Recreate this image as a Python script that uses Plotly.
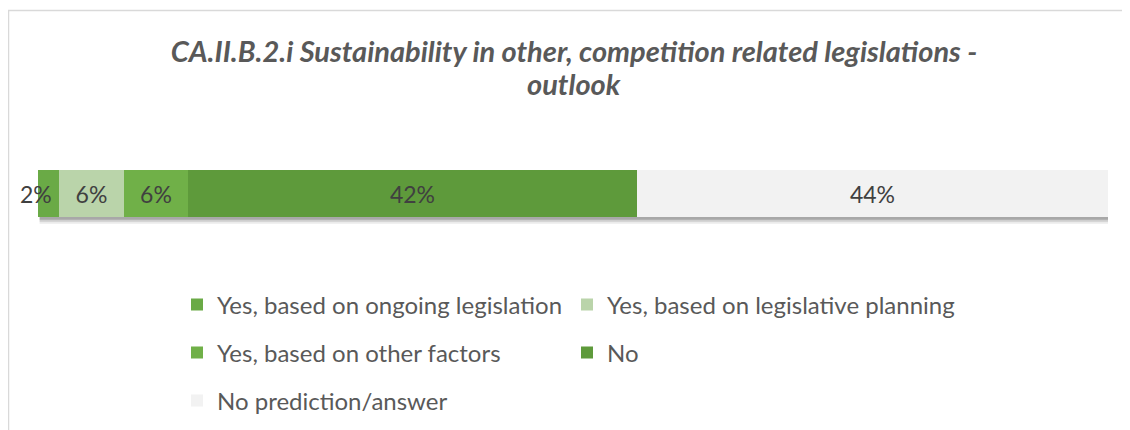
import plotly.graph_objects as go

categories = [""]
series_names = [
    "Yes, based on ongoing legislation",
    "Yes, based on legislative planning",
    "Yes, based on other factors",
    "No",
    "No prediction/answer",
]
series_values = [2, 6, 6, 42, 44]
series_colors = ["#6aaa46", "#bad4aa", "#70b048", "#5e9a3b", "#f2f2f2"]
legend_ids = ["legend", "legend", "legend2", "legend2", "legend3"]

W, H = 1130, 430
OFF = 8  # page body margin
ML, MR, MT, MB = 38 - OFF, 22 + OFF, 146 - OFF, 189 + OFF
PH = H - MT - MB


def py(p):
    return (H - MB - (p - OFF)) / PH


def px(p):
    return ((p - OFF) - ML) / (W - ML - MR)


BAR_W = 47 / PH
LABEL_FONT = dict(family="Lato", size=23, color="#404040")

fig = go.Figure()
for i, (name, val, col, lg) in enumerate(zip(series_names, series_values, series_colors, legend_ids)):
    fig.add_trace(go.Bar(
        y=categories, x=[val], name=name, orientation="h",
        marker=dict(color=col, line=dict(width=0)),
        width=BAR_W,
        text=[f"{val}%"], textposition="none" if i == 0 else "inside",
        insidetextanchor="middle",
        textangle=0, constraintext="none", cliponaxis=False,
        textfont=LABEL_FONT,
        legend=lg, hoverinfo="skip",
    ))

# label of the narrow first segment, drawn on top so it can overhang
annotations = [dict(text=f"{series_values[0]}%", xref="x", yref="y",
                    x=series_values[0] / 2, y=0, xshift=-13, showarrow=False,
                    xanchor="center", yanchor="middle", font=LABEL_FONT)]

# soft drop shadow under the bar
total = sum(series_values)
for off, alpha in [(0.07, 0.08), (0.05, 0.12), (0.03, 0.18)]:
    fig.add_shape(type="rect", xref="x", yref="y", layer="below",
                  x0=0.15, x1=total + 0.25, y0=-BAR_W / 2 - off, y1=BAR_W / 2 - off,
                  fillcolor=f"rgba(0,0,0,{alpha})", line=dict(width=0))

# chart-area border
fig.add_shape(type="rect", xref="paper", yref="paper",
              x0=px(8.5), x1=px(1200), y0=py(600), y1=py(10.5),
              line=dict(color="#d9d9d9", width=1.5), fillcolor="rgba(0,0,0,0)")

legend_common = dict(orientation="h", xanchor="left", yanchor="middle",
                     font=dict(family="Lato", size=24, color="#595959"),
                     bgcolor="rgba(0,0,0,0)", entrywidth=345, entrywidthmode="pixels",
                     traceorder="normal")

annotations.append(dict(text="<b><i>outlook</i></b>", xref="paper", yref="paper",
                        x=px(574), y=py(83.5), xanchor="center", yanchor="middle",
                        showarrow=False,
                        font=dict(family="Lato", size=29, color="#595959")))

fig.update_layout(
    width=W, height=H,
    margin=dict(l=ML, r=MR, t=MT, b=MB, autoexpand=False),
    paper_bgcolor="white", plot_bgcolor="white",
    barmode="stack", bargap=0,
    showlegend=True,
    legend=dict(x=px(177), y=py(305), **legend_common),
    legend2=dict(x=px(177), y=py(353), **legend_common),
    legend3=dict(x=px(177), y=py(401), **legend_common),
    xaxis=dict(range=[0, total], visible=False, fixedrange=True),
    yaxis=dict(range=[-0.5, 0.5], visible=False, fixedrange=True),
    title=dict(text="<b><i>CA.II.B.2.i Sustainability in other, competition related legislations -</i></b>",
               x=px(574), xanchor="center", xref="paper",
               y=1 - (51.5 - OFF) / H, yanchor="middle", yref="container",
               font=dict(family="Lato", size=29, color="#595959")),
    annotations=annotations,
)

fig.write_html("out.html")
